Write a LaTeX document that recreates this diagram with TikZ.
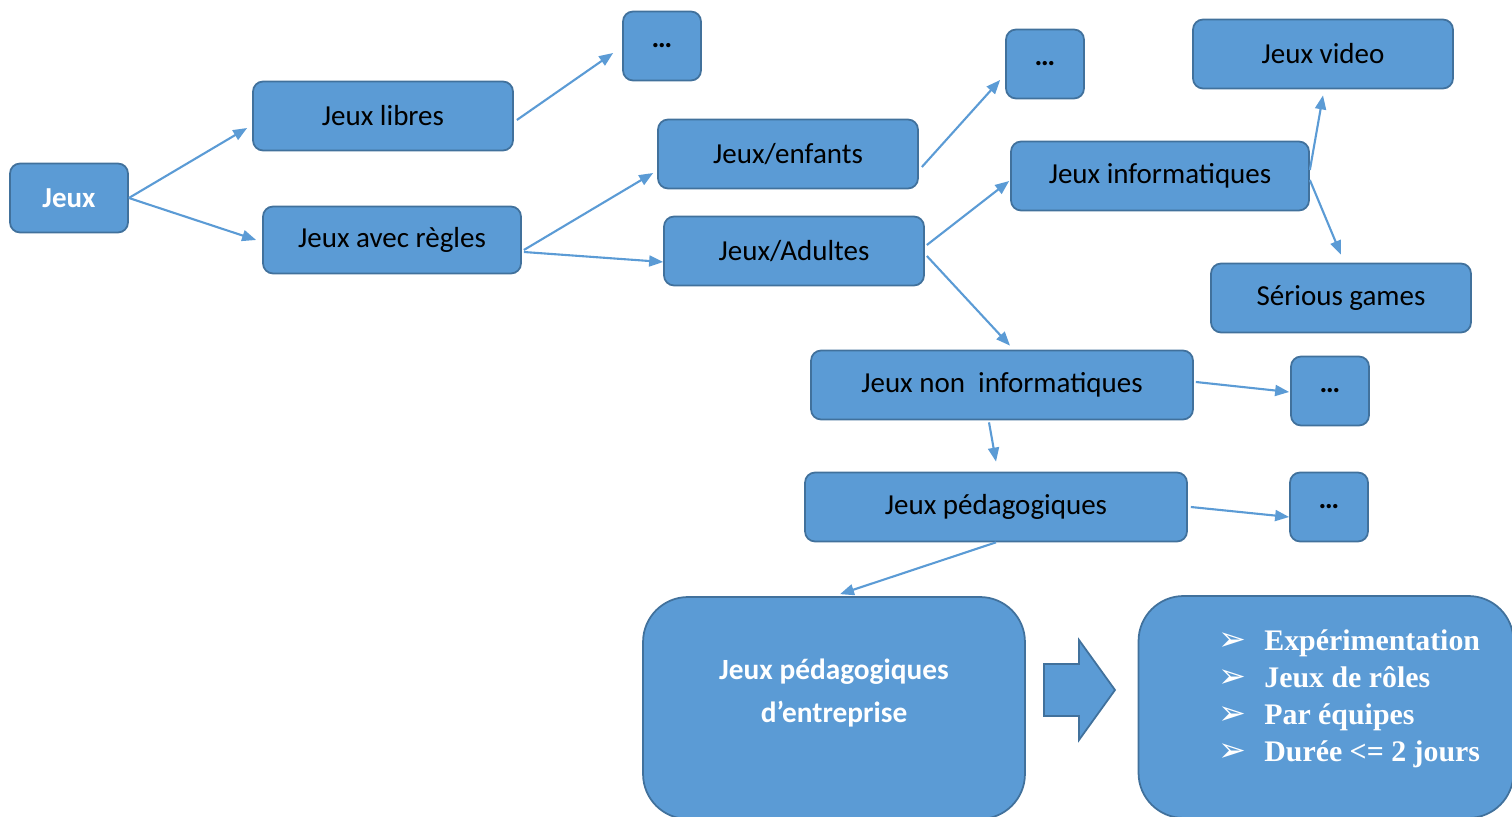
\documentclass[tikz,border=0pt]{standalone}
\usepackage{fontspec}
\setmainfont{Carlito}
\newfontfamily\tnr{Liberation Serif}
\newfontfamily\dejavu{DejaVu Sans}
\usetikzlibrary{arrows.meta}
\definecolor{bleu}{HTML}{5B9BD5}
\definecolor{bordure}{HTML}{41719C}
\newcommand\puce{\makebox[0.92cm][l]{\dejavu\fontsize{19}{19}\selectfont ➢}}

\begin{document}
\begin{tikzpicture}[x=0.02cm,y=-0.02cm]
		\useasboundingbox (0,0) rectangle (1512,817);
		\begin{scope}[every node/.style={rectangle,rounded corners=0.2cm,draw=bordure,fill=bleu,
		              line width=1pt,minimum width=5.2cm,minimum height=1.38cm,inner sep=0pt,
		              font=\fontsize{16.5}{20}\selectfont}]
			\node[minimum width=2.36cm,text=white,font=\fontsize{16.5}{20}\selectfont\bfseries] (jeux) at (69,198) {Jeux};
			\node (libres) at (383,116) {Jeux libres};
			\node[minimum width=5.16cm,minimum height=1.34cm] (regles) at (392,240) {Jeux avec règles};
			\node[minimum width=1.56cm,font=\fontsize{16.5}{20}\selectfont\bfseries] (p1) at (662,46) {…};
			\node (enfants) at (788,154) {Jeux/enfants};
			\node (adultes) at (794,251) {Jeux/Adultes};
			\node[minimum width=1.56cm,font=\fontsize{16.5}{20}\selectfont\bfseries] (p2) at (1045,64) {…};
			\node[minimum width=5.96cm] (info) at (1160,176) {Jeux informatiques};
			\node (video) at (1323,54) {Jeux video};
			\node (serious) at (1341,298) {Sérious games};
			\node[minimum width=7.64cm] (noninfo) at (1002,385) {Jeux non\ \ informatiques};
			\node[minimum width=1.56cm,font=\fontsize{16.5}{20}\selectfont\bfseries] (p3) at (1330,391) {…};
			\node[minimum width=7.64cm] (peda) at (996,507) {Jeux pédagogiques};
			\node[minimum width=1.56cm,font=\fontsize{16.5}{20}\selectfont\bfseries] (p4) at (1329,507) {…};
			\node[rounded corners=0.9cm,minimum width=7.64cm,minimum height=4.44cm] (grand) at (834,708) {};
			\node[rounded corners=0.9cm,minimum width=7.5cm,minimum height=4.44cm] (liste) at (1326,707) {};
		\end{scope}

		% grosse fleche
		\draw[draw=bordure,fill=bleu,line width=1pt] (1044,664) -- (1079,664) -- (1079,640) -- (1115,690)
		      -- (1079,740) -- (1079,716) -- (1044,716) -- cycle;

		\begin{scope}[every node/.style={text=white,inner sep=0pt}]
			\node[align=center,font=\fontsize{16.7}{24}\selectfont\bfseries] (txtgrand) at ([yshift=0.3cm]grand.center) {Jeux pédagogiques\\d’entreprise};
			\node[anchor=west,align=left,font=\tnr\bfseries\fontsize{17}{21}\selectfont] (txtliste) at (1218,699)
			     {\puce Expérimentation\\ \puce Jeux de rôles\\ \puce Par équipes\\ \puce Durée <= 2 jours};
		\end{scope}

		\begin{scope}[>={Triangle[length=0.28cm,width=0.22cm]},
		              every edge/.style={draw=bleu,line width=1.2pt,->}]
			\path (jeux.east) edge ([shift={(-5,12)}]libres.west);
			\path (jeux.east) edge ([shift={(-6,0)}]regles.west);
			\path ([shift={(3,4)}]libres.east) edge ([shift={(-9,7)}]p1.west);
			\path ([shift={(2,10)}]regles.east) edge ([shift={(-4,19)}]enfants.west);
			\path ([shift={(2,12)}]regles.east) edge ([shift={(0,11)}]adultes.west);
			\path ([shift={(3,13)}]enfants.east) edge ([shift={(-5,16)}]p2.west);
			\path ([shift={(2,-6)}]adultes.east) edge ([shift={(-1,5)}]info.west);
			\path ([shift={(2,5)}]adultes.east) edge ([shift={(8,-4)}]noninfo.north);
			\path ([shift={(0,-6)}]info.east) edge ([shift={(0,6)}]video.south);
			\path ([shift={(0,4)}]info.east) edge ([shift={(0,-8)}]serious.north);
			\path ([shift={(2,-3)}]noninfo.east) edge ([shift={(-1,1)}]p3.west);
			\path ([shift={(-13,2)}]noninfo.south) edge ([shift={(0,-10)}]peda.north);
			\path ([shift={(3,0)}]peda.east) edge ([shift={(0,10)}]p4.west);
			\path (peda.south) edge ([shift={(6,-2)}]grand.north);
		\end{scope}
\end{tikzpicture}
\end{document}
